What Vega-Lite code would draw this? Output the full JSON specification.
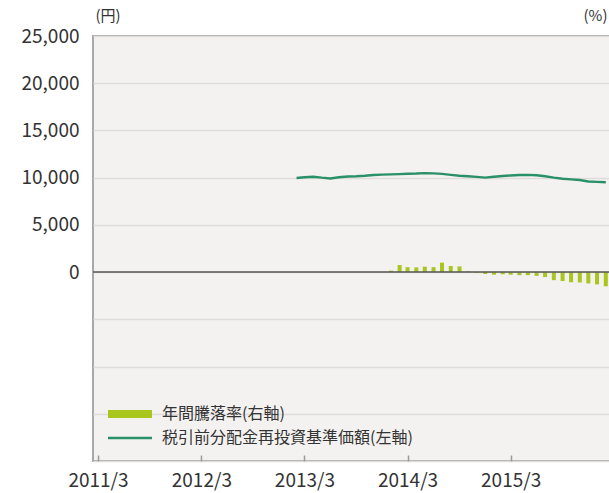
{
  "$schema": "https://vega.github.io/schema/vega-lite/v6.json",
  "width": 526,
  "height": 425,
  "autosize": {"type": "none"},
  "padding": {"left": 93, "top": 36, "right": 0, "bottom": 32},
  "background": "#ffffff",
  "config": {
    "font": "Noto Sans CJK JP",
    "view": {"fill": "#f3f2f1", "stroke": "#a8a8a8", "strokeWidth": 2}
  },
  "datasets": {
    "nav": [
      {"date": "2013-02-01", "nav": 9970},
      {"date": "2013-03-01", "nav": 10050},
      {"date": "2013-04-01", "nav": 10100},
      {"date": "2013-05-01", "nav": 10000},
      {"date": "2013-06-01", "nav": 9920},
      {"date": "2013-07-01", "nav": 10050},
      {"date": "2013-08-01", "nav": 10120},
      {"date": "2013-09-01", "nav": 10150},
      {"date": "2013-10-01", "nav": 10200},
      {"date": "2013-11-01", "nav": 10280},
      {"date": "2013-12-01", "nav": 10320},
      {"date": "2014-01-01", "nav": 10350},
      {"date": "2014-02-01", "nav": 10380},
      {"date": "2014-03-01", "nav": 10420},
      {"date": "2014-04-01", "nav": 10440},
      {"date": "2014-05-01", "nav": 10480},
      {"date": "2014-06-01", "nav": 10450},
      {"date": "2014-07-01", "nav": 10400},
      {"date": "2014-08-01", "nav": 10300},
      {"date": "2014-09-01", "nav": 10200},
      {"date": "2014-10-01", "nav": 10150},
      {"date": "2014-11-01", "nav": 10080},
      {"date": "2014-12-01", "nav": 10000},
      {"date": "2015-01-01", "nav": 10100},
      {"date": "2015-02-01", "nav": 10180},
      {"date": "2015-03-01", "nav": 10230},
      {"date": "2015-04-01", "nav": 10280},
      {"date": "2015-05-01", "nav": 10300},
      {"date": "2015-06-01", "nav": 10250},
      {"date": "2015-07-01", "nav": 10150},
      {"date": "2015-08-01", "nav": 10000},
      {"date": "2015-09-01", "nav": 9880},
      {"date": "2015-10-01", "nav": 9820},
      {"date": "2015-11-01", "nav": 9750},
      {"date": "2015-12-01", "nav": 9600},
      {"date": "2016-01-01", "nav": 9550},
      {"date": "2016-02-01", "nav": 9520}
    ],
    "ret": [
      {"date": "2014-01-01", "ret": 0.6},
      {"date": "2014-02-01", "ret": 3.0},
      {"date": "2014-03-01", "ret": 2.1},
      {"date": "2014-04-01", "ret": 2.0},
      {"date": "2014-05-01", "ret": 2.3},
      {"date": "2014-06-01", "ret": 2.1},
      {"date": "2014-07-01", "ret": 4.0},
      {"date": "2014-08-01", "ret": 2.6},
      {"date": "2014-09-01", "ret": 2.4},
      {"date": "2014-10-01", "ret": 0.3},
      {"date": "2014-11-01", "ret": -0.3},
      {"date": "2014-12-01", "ret": -0.8},
      {"date": "2015-01-01", "ret": -1.1},
      {"date": "2015-02-01", "ret": -0.9},
      {"date": "2015-03-01", "ret": -1.1},
      {"date": "2015-04-01", "ret": -1.3},
      {"date": "2015-05-01", "ret": -1.3},
      {"date": "2015-06-01", "ret": -1.6},
      {"date": "2015-07-01", "ret": -2.1},
      {"date": "2015-08-01", "ret": -3.4},
      {"date": "2015-09-01", "ret": -3.8},
      {"date": "2015-10-01", "ret": -4.3},
      {"date": "2015-11-01", "ret": -4.4},
      {"date": "2015-12-01", "ret": -4.8},
      {"date": "2016-01-01", "ret": -5.2},
      {"date": "2016-02-01", "ret": -6.0}
    ]
  },
  "layer": [
    {
      "data": {"name": "ret"},
      "mark": {"type": "bar", "size": 4},
      "encoding": {
        "x": {
          "field": "date",
          "type": "temporal",
          "scale": {
            "type": "utc",
            "domain": [
              {"year": 2011, "month": 3, "date": 1, "utc": true},
              {"year": 2016, "month": 3, "date": 1, "utc": true}
            ]
          },
          "axis": {
            "title": null,
            "values": [
              {"year": 2011, "month": 3, "date": 1, "utc": true},
              {"year": 2012, "month": 3, "date": 1, "utc": true},
              {"year": 2013, "month": 3, "date": 1, "utc": true},
              {"year": 2014, "month": 3, "date": 1, "utc": true},
              {"year": 2015, "month": 3, "date": 1, "utc": true}
            ],
            "labelExpr": "utcFormat(datum.value, '%Y/%-m')",
            "grid": false,
            "domain": false,
            "ticks": true,
            "tickSize": -6,
            "tickColor": "#9a9a9a",
            "tickWidth": 1.5,
            "labelPadding": 16,
            "labelFontSize": 19,
            "labelColor": "#333333",
            "labelFlush": false
          }
        },
        "y": {
          "field": "ret",
          "type": "quantitative",
          "scale": {"domain": [-80, 100], "nice": false, "zero": false},
          "axis": {
            "orient": "right",
            "labels": false,
            "ticks": false,
            "domain": false,
            "grid": false,
            "title": "(%)",
            "titleAngle": 0,
            "titleAlign": "right",
            "titleBaseline": "alphabetic",
            "titleX": -12,
            "titleY": -16,
            "titleFontSize": 15,
            "titleFontWeight": "normal",
            "titleColor": "#333333"
          }
        },
        "color": {
          "datum": "年間騰落率(右軸)",
          "scale": {
            "domain": ["年間騰落率(右軸)", "税引前分配金再投資基準価額(左軸)"],
            "range": ["#a8c61c", "#2a9068"]
          },
          "legend": {
            "title": null,
            "orient": "none",
            "legendX": 29,
            "legendY": 370,
            "symbolType": "M-2.75,0H2.75",
            "symbolSize": 256,
            "labelOffset": 24,
            "labelFontSize": 16,
            "labelLimit": 0,
            "labelColor": "#333333",
            "rowPadding": -3,
            "padding": 0,
            "encode": {
              "symbols": {
                "update": {
                  "stroke": {"scale": "color", "field": "value"},
                  "fill": {"value": "transparent"},
                  "strokeWidth": {"signal": "datum.value === '年間騰落率(右軸)' ? 8 : 2.5"},
                  "opacity": {"value": 1}
                }
              }
            }
          }
        }
      }
    },
    {
      "layer": [
        {
          "data": {"values": [{"z": 0}]},
          "mark": {"type": "rule", "color": "#555555", "strokeWidth": 1.5},
          "encoding": {
            "y": {"field": "z", "type": "quantitative"}
          }
        },
        {
          "data": {"name": "nav"},
          "mark": {"type": "line", "strokeWidth": 2.4},
          "encoding": {
            "x": {"field": "date", "type": "temporal"},
            "y": {
              "field": "nav",
              "type": "quantitative",
              "scale": {"domain": [-20000, 25000], "nice": false, "zero": false},
              "axis": {
                "orient": "left",
                "values": [-20000, -15000, -10000, -5000, 0, 5000, 10000, 15000, 20000, 25000],
                "labelExpr": "datum.value < 0 ? '' : format(datum.value, ',')",
                "grid": true,
                "gridColor": "#dfdddb",
                "gridWidth": 1.5,
                "ticks": false,
                "domain": false,
                "labelPadding": 14,
                "labelFontSize": 19,
                "labelColor": "#333333",
                "title": "(円)",
                "titleAngle": 0,
                "titleAlign": "left",
                "titleBaseline": "alphabetic",
                "titleX": 2,
                "titleY": -16,
                "titleFontSize": 15,
                "titleFontWeight": "normal",
                "titleColor": "#333333"
              }
            },
            "color": {"datum": "税引前分配金再投資基準価額(左軸)"}
          }
        }
      ]
    }
  ],
  "resolve": {"scale": {"y": "independent"}, "axis": {"y": "independent"}}
}
